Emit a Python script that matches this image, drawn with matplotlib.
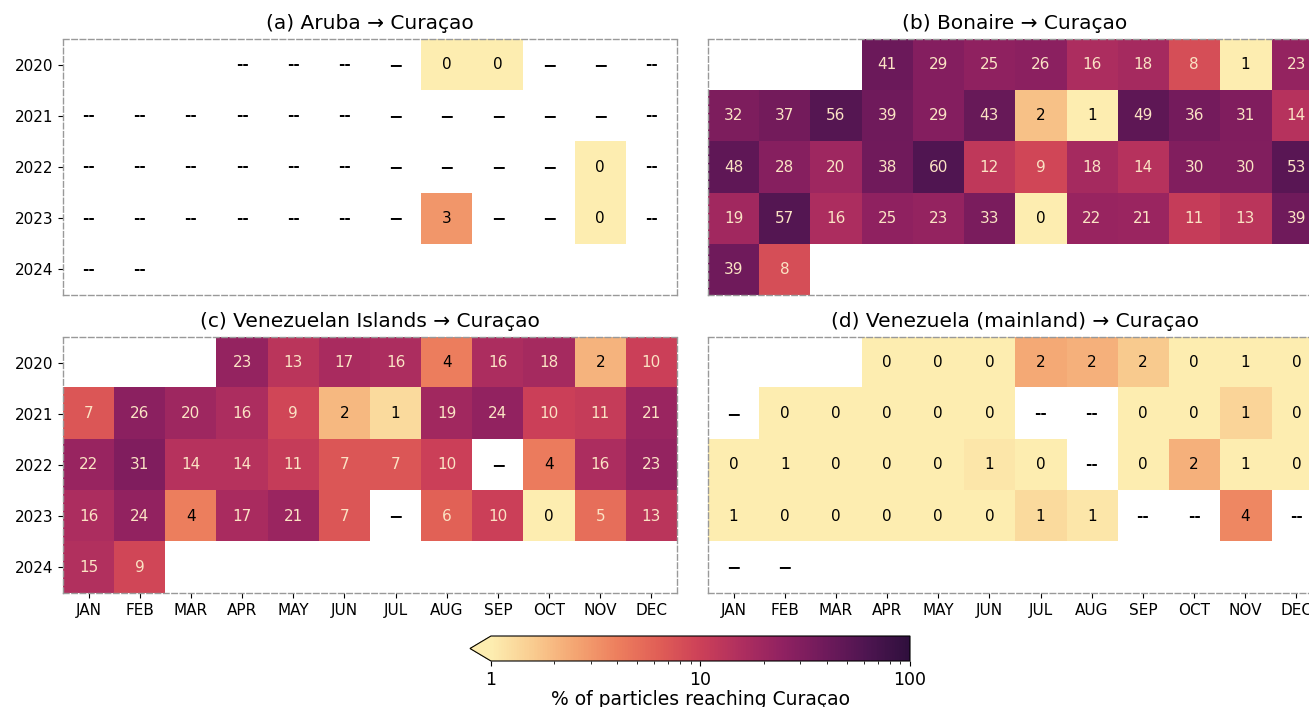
import numpy as np
import matplotlib
matplotlib.use("Agg")
import matplotlib.pyplot as plt
from matplotlib.colors import LinearSegmentedColormap, LogNorm

# months / years shown on the heatmaps
months = ["JAN", "FEB", "MAR", "APR", "MAY", "JUN",
          "JUL", "AUG", "SEP", "OCT", "NOV", "DEC"]
years = [2020, 2021, 2022, 2023, 2024]

# percentage of particles reaching Curaçao per release month
# "" = outside the simulation period, "--" = no release, "−" = no particles arrived
aruba = [
    ["", "", "", "--", "--", "--", "−", 0.3, 0.2, "−", "−", "--"],
    ["--", "--", "--", "--", "--", "--", "−", "−", "−", "−", "−", "--"],
    ["--", "--", "--", "--", "--", "--", "−", "−", "−", "−", 0.3, "--"],
    ["--", "--", "--", "--", "--", "--", "−", 3.0, "−", "−", 0.2, "--"],
    ["--", "--", "", "", "", "", "", "", "", "", "", ""],
]
bonaire = [
    ["", "", "", 41, 29, 25, 26, 16, 18, 8, 0.9, 23],
    [32, 37, 56, 39, 29, 43, 1.8, 0.9, 49, 36, 31, 14],
    [48, 28, 20, 38, 60, 12, 9, 18, 14, 30, 30, 53],
    [19, 57, 16, 25, 23, 33, 0.3, 22, 21, 11, 13, 39],
    [39, 8, "", "", "", "", "", "", "", "", "", ""],
]
ven_islands = [
    ["", "", "", 23, 13, 17, 16, 4.1, 16, 18, 2.1, 10],
    [7, 26, 20, 16, 9, 2.0, 1.3, 19, 24, 10, 11, 21],
    [22, 31, 14, 14, 11, 7, 7, 10, "−", 4.2, 16, 23],
    [16, 24, 4.0, 17, 21, 7, "−", 6, 10, 0.4, 5, 13],
    [15, 9, "", "", "", "", "", "", "", "", "", ""],
]
ven_mainland = [
    ["", "", "", 0.1, 0.1, 0.2, 2.4, 2.2, 1.6, 0.3, 0.9, 0.2],
    ["−", 0.1, 0.1, 0.1, 0.1, 0.2, "--", "--", 0.3, 0.4, 1.4, 0.2],
    [0.3, 0.9, 0.2, 0.1, 0.2, 1.1, 0.4, "--", 0.3, 2.2, 0.9, 0.3],
    [0.9, 0.2, 0.1, 0.1, 0.2, 0.3, 1.3, 1.1, "--", "--", 3.6, "--"],
    ["−", "−", "", "", "", "", "", "", "", "", "", ""],
]

panels = [
    ("(a) Aruba → Curaçao", aruba),
    ("(b) Bonaire → Curaçao", bonaire),
    ("(c) Venezuelan Islands → Curaçao", ven_islands),
    ("(d) Venezuela (mainland) → Curaçao", ven_mainland),
]

# light-yellow to dark-purple sequential map
cmap = LinearSegmentedColormap.from_list("matter", [
    (0.0, "#fdedb0"), (0.1, "#f9cb8f"), (0.2, "#f4a572"), (0.3, "#ed7f5e"),
    (0.4, "#e05e56"), (0.5, "#cc4058"), (0.6, "#ae2e5f"), (0.7, "#8f2161"),
    (0.8, "#6e1a5b"), (0.9, "#4d1550"), (1.0, "#2f0f3d")])
cmap.set_under("#fdedb0")
cmap.set_bad("white")
norm = LogNorm(vmin=1, vmax=100)

fig = plt.figure(figsize=(13.09, 7.07), dpi=100)

W, H = 1309, 707
boxes = [(63, 39), (708, 39), (63, 337), (708, 337)]

for i, ((title, grid), (x0, y0)) in enumerate(zip(panels, boxes)):
    ax = fig.add_axes([x0 / W, 1 - (y0 + 256) / H, 614 / W, 256 / H])
    vals = np.array([[v if not isinstance(v, str) else np.nan for v in row]
                     for row in grid], dtype=float)
    ax.imshow(np.ma.masked_invalid(vals), cmap=cmap, norm=norm,
              aspect="auto", interpolation="nearest")
    for r, row in enumerate(grid):
        for c, v in enumerate(row):
            if isinstance(v, str):
                if v == "--":
                    ax.text(c, r, v, ha="center", va="center", fontsize=11,
                            color="black", fontweight="bold")
                elif v:
                    ax.text(c, r, v, ha="center", va="center", fontsize=12.5,
                            color="black", fontweight="bold")
            else:
                ax.text(c, r, f"{v:.0f}", ha="center", va="center", fontsize=11,
                        color="black" if v < 4.5 else "#fbe3c4")
    ax.set_xlim(-0.5, 11.5)
    ax.set_ylim(4.5, -0.5)
    for sp in ax.spines.values():
        sp.set_linestyle((0, (4, 2)))
        sp.set_color("#999999")
        sp.set_linewidth(1.0)
    if i % 2 == 0:
        ax.set_yticks(range(len(years)))
        ax.set_yticklabels(years, fontsize=11)
    else:
        ax.set_yticks([])
    if i >= 2:
        ax.set_xticks(range(len(months)))
        ax.set_xticklabels(months, fontsize=11)
    else:
        ax.set_xticks([])
    ax.set_title(title, fontsize=14.5, pad=7)

cax = fig.add_axes([470 / W, 1 - 661 / H, 440 / W, 25 / H])
sm = plt.cm.ScalarMappable(norm=norm, cmap=cmap)
cb = fig.colorbar(sm, cax=cax, orientation="horizontal", extend="min")
cb.set_ticks([1, 10, 100])
cb.set_ticklabels(["1", "10", "100"])
cb.ax.tick_params(labelsize=12.5)
cb.set_label("% of particles reaching Curaçao", fontsize=13.5, labelpad=1)

fig.savefig("out.png", dpi=100)
